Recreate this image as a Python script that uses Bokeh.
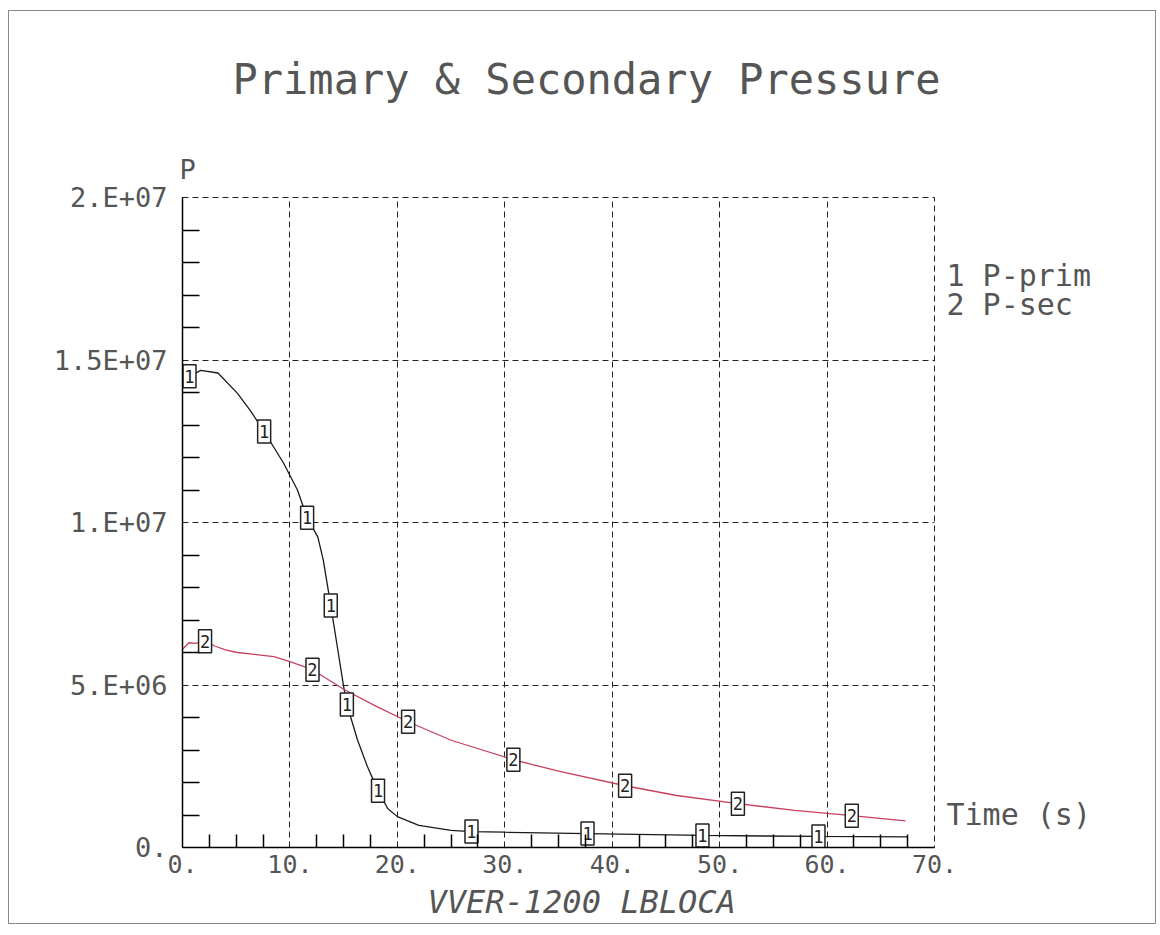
from bokeh.plotting import figure
from bokeh.models import Range1d, FixedTicker, LinearAxis, Title
from bokeh.embed import file_html
from bokeh.resources import INLINE
from bokeh.core.properties import value

# ---------------- data ----------------
title_text = "Primary & Secondary Pressure"
x_label = "Time (s)"
y_label = "P"
footer_text = "VVER-1200 LBLOCA"
series_ids = ["1", "2"]
series_names = ["P-prim", "P-sec"]

x_ticks = [0, 10, 20, 30, 40, 50, 60, 70]
x_tick_labels = ["0.", "10.", "20.", "30.", "40.", "50.", "60.", "70."]
x_minor_ticks = [2.5, 5, 7.5, 12.5, 15, 17.5, 22.5, 25, 27.5, 32.5, 35, 37.5,
                 42.5, 45, 47.5, 52.5, 55, 57.5, 62.5, 65, 67.5]
y_ticks = [0, 5000000, 10000000, 15000000, 20000000]
y_tick_labels = ["0.", "5.E+06", "1.E+07", "1.5E+07", "2.E+07"]
y_minor_ticks = [1e6, 2e6, 3e6, 4e6, 6e6, 7e6, 8e6, 9e6, 11e6, 12e6, 13e6, 14e6,
                 16e6, 17e6, 18e6, 19e6]

# P-prim curve (time s, pressure Pa)
prim_t = [0.0, 0.65, 1.7, 3.3, 5.1, 6.3, 7.6, 9.4, 10.7, 11.6, 12.6, 13.1, 13.8,
          14.4, 15.0, 15.3, 16.3, 17.2, 18.2, 19.1, 20.0, 22.0, 25.0, 26.9, 30.0,
          37.7, 48.4, 59.2, 67.5]
prim_p = [14.45e6, 14.5e6, 14.68e6, 14.6e6, 13.98e6, 13.45e6, 12.8e6, 11.83e6,
          11.0e6, 10.15e6, 9.55e6, 8.85e6, 7.45e6, 6.2e6, 4.95e6, 4.4e6, 3.3e6,
          2.5e6, 1.75e6, 1.2e6, 0.95e6, 0.68e6, 0.53e6, 0.49e6, 0.47e6, 0.43e6,
          0.37e6, 0.34e6, 0.33e6]
prim_mark_t = [0.65, 7.6, 11.6, 13.8, 15.3, 18.2, 26.9, 37.7, 48.4, 59.2]
prim_mark_p = [14.5e6, 12.8e6, 10.15e6, 7.45e6, 4.4e6, 1.75e6, 0.49e6, 0.43e6,
               0.37e6, 0.34e6]

# P-sec curve
sec_t = [0.0, 0.6, 1.2, 2.1, 3.0, 4.0, 5.1, 6.5, 8.5, 10.0, 12.1, 15.0, 18.0,
         21.0, 25.0, 30.8, 35.0, 41.2, 46.0, 51.7, 57.0, 62.3, 67.3]
sec_p = [6.1e6, 6.3e6, 6.28e6, 6.35e6, 6.2e6, 6.08e6, 6.0e6, 5.95e6, 5.87e6,
         5.72e6, 5.47e6, 4.87e6, 4.35e6, 3.87e6, 3.3e6, 2.7e6, 2.35e6, 1.9e6,
         1.6e6, 1.35e6, 1.14e6, 0.98e6, 0.82e6]
sec_mark_t = [2.1, 12.1, 21.0, 30.8, 41.2, 51.7, 62.3]
sec_mark_p = [6.35e6, 5.47e6, 3.87e6, 2.7e6, 1.9e6, 1.35e6, 0.98e6]

# positions (in y data units) of the texts at the right of the plot
right_text_y = [17.6e6, 16.7e6, 1.02e6]
right_texts = [series_ids[0] + " " + series_names[0],
               series_ids[1] + " " + series_names[1], x_label]

# ---------------- figure ----------------
FONT = "DejaVu Sans Mono"
GREY = "#555555"

p = figure(width=1148, height=914, x_range=Range1d(0, 70), y_range=Range1d(0, 2e7),
           output_backend="svg", toolbar_location=None, title=None,
           min_border_left=173, min_border_right=223, min_border_top=186,
           min_border_bottom=77)
p.styles = {"margin-left": "8px", "margin-top": "10px", "border": "1px solid #8a8a8a"}
p.background_fill_color = "white"
p.border_fill_color = "white"
# dashed frame: top (2.E+07) and right (70.) borders
p.outline_line_color = "#222222"
p.outline_line_dash = "6 4"
p.outline_line_width = 1

# grid
p.xgrid.ticker = FixedTicker(ticks=x_ticks)
p.ygrid.ticker = FixedTicker(ticks=y_ticks)
for g in (p.xgrid, p.ygrid):
    g.grid_line_color = "#222222"
    g.grid_line_dash = "6 4"
    g.grid_line_width = 1

# axes
p.xaxis.ticker = FixedTicker(ticks=x_ticks, minor_ticks=x_minor_ticks)
p.yaxis.ticker = FixedTicker(ticks=y_ticks, minor_ticks=y_minor_ticks)
p.xaxis.major_label_overrides = {t: l for t, l in zip(x_ticks, x_tick_labels)}
p.yaxis.major_label_overrides = {t: l for t, l in zip(y_ticks, y_tick_labels)}
for ax in (p.xaxis, p.yaxis):
    ax.axis_line_color = "black"
    ax.axis_line_width = 1.5
    ax.major_tick_in = 0
    ax.major_tick_out = 0
    ax.minor_tick_out = 0
    ax.minor_tick_line_color = "black"
    ax.minor_tick_line_width = 1.5
    ax.major_label_text_font = FONT
    ax.major_label_text_color = GREY
p.xaxis.major_label_text_font_size = "25px"
p.yaxis.major_label_text_font_size = "27px"
p.xaxis.minor_tick_in = 13
p.yaxis.minor_tick_in = 17
p.xaxis.major_label_standoff = 7
p.yaxis.major_label_standoff = 15

# right side texts: legend entries and the time axis name
right_axis = LinearAxis(ticker=FixedTicker(ticks=right_text_y, minor_ticks=[]),
                        major_label_overrides={t: s for t, s in zip(right_text_y, right_texts)})
right_axis.axis_line_color = None
right_axis.major_tick_line_color = None
right_axis.minor_tick_line_color = None
right_axis.major_tick_in = 0
right_axis.major_tick_out = 0
right_axis.major_label_standoff = 12
right_axis.major_label_text_font = FONT
right_axis.major_label_text_font_size = "30px"
right_axis.major_label_text_color = GREY
p.add_layout(right_axis, "right")

# curves
p.line(prim_t, prim_p, line_color="#1a1a1a", line_width=1.3)
p.line(sec_t, sec_p, line_color="#c8405e", line_width=1.3)

# markers: boxes with the curve number
for mt, mp, sid in ((prim_mark_t, prim_mark_p, series_ids[0]),
                    (sec_mark_t, sec_mark_p, series_ids[1])):
    p.rect(x=mt, y=mp, width=13, height=23, width_units="screen",
           height_units="screen", fill_color="white", line_color="#222222",
           line_width=1.5)
    p.text(x=mt, y=mp, text=[sid] * len(mt), text_align="center",
           text_baseline="middle", text_font=value(FONT), text_font_size="17px",
           text_color="#222222")

# titles: "P" nearest the frame, main title above it, footer below the x axis
p.add_layout(Title(text=y_label, align="left", offset=-3, standoff=26,
                   text_font=FONT, text_font_size="27px", text_font_style="normal",
                   text_color=GREY), "above")
p.add_layout(Title(text=title_text, align="left", offset=50, standoff=70,
                   text_font=FONT, text_font_size="42px", text_font_style="normal",
                   text_color=GREY), "above")
p.add_layout(Title(text=footer_text, align="left", offset=245, standoff=10,
                   text_font=FONT, text_font_size="32px", text_font_style="italic",
                   text_color=GREY), "below")

open("out.html", "w").write(file_html(p, INLINE))
